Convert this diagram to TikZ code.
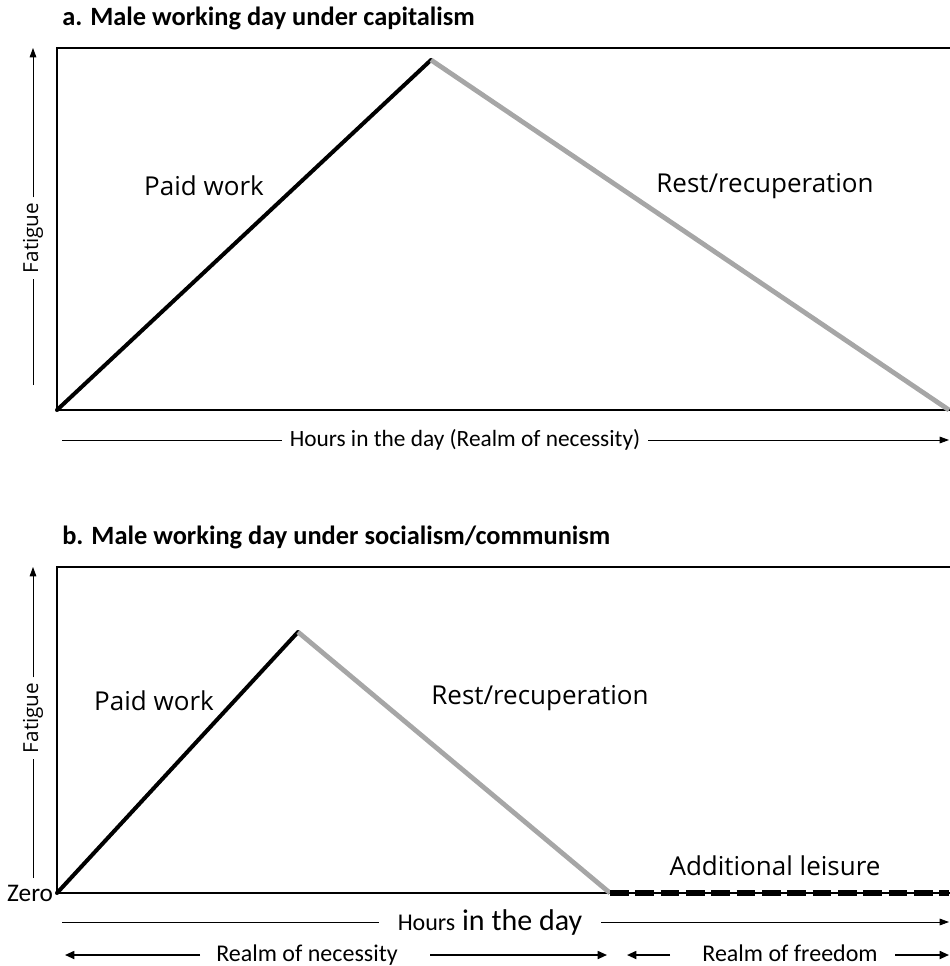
\documentclass[tikz,border=0pt]{standalone}
\usepackage{fontspec}
\setmainfont{Open Sans}
\newfontfamily\calibri{Carlito}
\usetikzlibrary{arrows.meta}

\definecolor{restgray}{RGB}{166,166,166}

\tikzset{
  frame/.style={black, line width=1.6pt},
  work/.style={black, line width=3pt},
  rest/.style={restgray, line width=3.6pt},
  axis/.style={black, line width=0.6pt},
  axisarrow/.style={axis, -{Triangle[length=7pt,width=5pt]}},
  realmarrow/.style={black, line width=1.3pt, -{Triangle[length=7pt,width=6pt]}},
  title/.style={font=\calibri\bfseries\fontsize{19.8}{22}\selectfont, anchor=west, inner sep=0pt},
  label/.style={font=\fontsize{19.5}{22}\selectfont, inner sep=0pt},
  axislabel/.style={font=\fontsize{15.5}{18}\selectfont, inner sep=4pt},
  hourslabel/.style={font=\calibri\fontsize{17.5}{20}\selectfont, inner sep=6pt},
  realmlabel/.style={font=\calibri\fontsize{18}{20}\selectfont, inner sep=0pt}
}

\begin{document}
\begin{tikzpicture}[x=0.75pt,y=-0.75pt]
        \useasboundingbox (0,0) rectangle (949,966);

        % a. capitalism
        \node[title] (titleA) at (62,18) {a. Male working day under capitalism};

        \coordinate (originA) at (57,410);
        \coordinate (peakA) at (431,60);
        \coordinate (endA) at (949,410);
        \draw[frame] (951,48) -- (57,48) -- (57,410) -- (951,410);
        \draw[work, line cap=round] (originA) -- (peakA);
        \draw[rest] (peakA) -- (endA);

        \node[label] (paidA) at (204,186) {Paid work};
        \node[label] (restA) at (765,186) {Rest/recuperation};

        \node[axislabel, rotate=90] (fatigueA) at (33,238) {Fatigue};
        \coordinate (fatA0) at (33,385);
        \coordinate (fatA1) at (33,48);
        \draw[axis] (fatA0) -- (fatigueA);
        \draw[axisarrow] (fatigueA) -- (fatA1);

        \node[hourslabel] (hoursA) at (465,440) {Hours in the day (Realm of necessity)};
        \coordinate (hrsA0) at (62,440);
        \coordinate (hrsA1) at (949,440);
        \draw[axis] (hrsA0) -- (hoursA);
        \draw[axisarrow] (hoursA) -- (hrsA1);

        % b. socialism/communism
        \node[title] (titleB) at (62,537) {b. Male working day under socialism/communism};

        \coordinate (originB) at (57,893);
        \coordinate (peakB) at (298,632);
        \coordinate (restEndB) at (610,893);
        \coordinate (endB) at (949,893);
        \draw[frame] (951,567) -- (57,567) -- (57,893) -- (951,893);
        \draw[work, line cap=round] (originB) -- (peakB);
        \draw[rest] (peakB) -- (restEndB);
        \draw[black, line width=4pt, dash pattern=on 14pt off 5pt] (restEndB) -- (endB);

        \node[label] (paidB) at (154,701) {Paid work};
        \node[label] (restB) at (540,698) {Rest/recuperation};
        \node[label] (leisureB) at (775,866) {Additional leisure};
        \node[font=\calibri\fontsize{19}{21}\selectfont, anchor=east, inner sep=2pt] (zeroB) at (56,893) {Zero};

        \node[axislabel, rotate=90] (fatigueB) at (33,718) {Fatigue};
        \coordinate (fatB0) at (33,878);
        \coordinate (fatB1) at (33,567);
        \draw[axis] (fatB0) -- (fatigueB);
        \draw[axisarrow] (fatigueB) -- (fatB1);

        \node[hourslabel, font=\calibri\fontsize{22.5}{24}\selectfont, inner xsep=14pt] (hoursB) at (490,922) {{\fontsize{18}{20}\selectfont Hours} in the day};
        \coordinate (hrsB0) at (62,922);
        \coordinate (hrsB1) at (949,922);
        \draw[axis] (hrsB0) -- (hoursB);
        \draw[axisarrow] (hoursB) -- (hrsB1);

        \node[realmlabel] (necessity) at (307,955) {Realm of necessity};
        \coordinate (necL) at (65,955);
        \coordinate (necR) at (430,955);
        \coordinate (necEnd) at (607,955);
        \draw[realmarrow] (200,955) -- (necL);
        \draw[realmarrow] (necR) -- (necEnd);

        \node[realmlabel] (freedom) at (790,953) {Realm of freedom};
        \coordinate (freL) at (627,955);
        \coordinate (freR) at (949,955);
        \draw[realmarrow] (670,955) -- (freL);
        \draw[realmarrow] (895,955) -- (freR);
\end{tikzpicture}
\end{document}
